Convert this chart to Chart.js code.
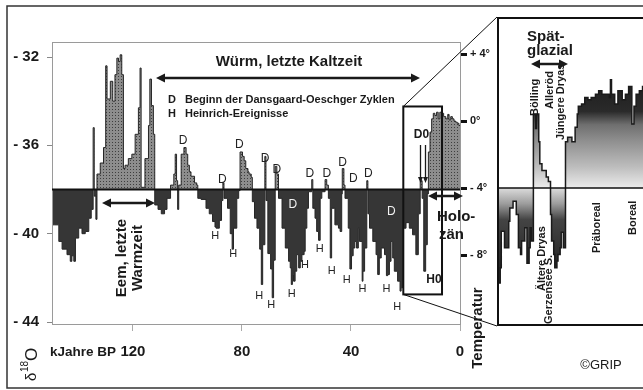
<!DOCTYPE html>
<html>
<head>
<meta charset="utf-8">
<script src="https://cdn.jsdelivr.net/npm/chart.js@4.4.1/dist/chart.umd.min.js"></script>
<style>
    html, body { margin: 0; padding: 0; background: #fff; overflow: hidden; }
    #wrap { position: relative; width: 643px; height: 390px; }
    #mainChart { position: absolute; left: 0; top: 0; }
    #insetChart { position: absolute; left: 497px; top: 17px; }
</style>
</head>
<body>
<div id="wrap">
    <canvas id="mainChart" width="643" height="390"></canvas>
    <canvas id="insetChart" width="148" height="309"></canvas>
</div>
<script>
// GRIP d18O record, ka BP (old -> young)
const ageKyr = [
    150.0, 148.7, 147.2, 146.0, 144.2, 143.0, 142.4, 141.7, 141.1, 139.9, 138.7, 137.5, 136.2, 135.3, 134.6, 134.2, 133.6, 133.2, 132.0, 130.8,
    130.0, 129.5, 128.3, 127.4, 126.6, 125.9, 125.3, 124.7, 124.1, 123.5, 122.9, 121.7, 120.4, 119.2, 118.0, 117.4, 117.0, 115.6, 114.3, 113.8,
    113.2, 112.5,
    112.0, 110.8, 109.6, 108.4, 107.5, 106.2, 105.0, 104.5, 104.0, 103.6, 103.2, 102.3, 101.3, 100.5, 99.9, 99.3, 98.7, 97.4, 96.6, 96.2,
    95.0, 93.2, 92.0, 90.8, 89.9, 89.5, 88.3, 87.5, 87.0, 86.6, 85.3, 84.3, 83.6, 83.1, 81.9, 81.2, 80.7, 79.8, 79.2, 78.6,
    77.8, 77.4, 76.6, 76.2, 75.4,
    74.5, 73.5, 72.9, 72.4, 71.6, 71.2, 70.5, 69.5, 68.9, 68.4, 67.8, 67.2, 66.6, 65.3, 64.1, 62.9, 62.3, 61.9, 61.5, 61.1,
    60.5, 59.9, 59.2, 58.6, 58.0, 57.2, 56.8, 56.2, 55.6, 54.4, 54.0, 53.2, 52.6, 51.9, 51.3, 50.7, 49.5, 48.9, 48.3, 47.6,
    47.1, 45.9, 44.6, 44.0, 43.4, 43.2, 42.6, 42.2, 41.0, 40.4, 39.8, 39.2, 38.6, 38.0, 37.3,
    36.9, 35.9, 35.6, 35.0, 34.2, 33.8, 33.2, 32.0, 30.8, 30.2, 29.6, 28.9, 27.7, 27.0, 26.5, 25.9, 25.3, 24.7, 24.1, 22.9,
    22.0, 21.6, 21.0, 19.8, 18.6, 17.4, 16.2, 15.3, 14.6, 13.9, 13.3, 12.6, 12.0, 11.6, 11.0, 10.4, 9.8, 9.2, 8.6, 8.0,
    7.4, 6.8, 6.0, 5.2, 4.5, 4.0, 3.4, 2.8, 2.2, 1.6, 1.0, 0.4, 0.0
];
const d18O = [
    -39.6, -39.6, -40.35, -40.7, -40.95, -41.25, -41.0, -41.25, -40.2, -39.75, -40.0, -39.9, -39.3, -38.9, -35.2, -38.3, -39.35, -37.3, -36.8, -36.1,
    -32.4, -33.9, -33.1, -34.0, -32.8, -32.05, -32.2, -31.9, -32.8, -37.05, -36.9, -36.6, -36.4, -35.5, -34.3, -32.5, -37.9, -36.6, -35.1, -33.0,
    -34.2, -35.5,
    -38.7, -38.9, -39.1, -38.9, -38.4, -37.8, -37.3, -36.4, -37.6, -38.9, -37.8, -36.4, -36.1, -36.4, -36.9, -37.2, -37.4, -37.7, -37.8, -38.4,
    -38.45, -38.85, -39.1, -39.45, -39.7, -39.75, -39.4, -38.5, -37.7, -38.4, -38.85, -40.0, -40.7, -39.75, -38.4, -38.05, -36.3, -36.5, -36.7, -37.05,
    -37.2, -37.3, -37.45, -38.55, -39.3,
    -39.75, -40.7, -42.3, -40.5, -36.5, -38.5, -40.9, -41.6, -42.9, -41.2, -36.95, -37.3, -38.4, -39.75, -40.65, -41.25, -41.55, -42.3, -41.85, -42.15,
    -41.7, -40.95, -41.55, -41.25, -40.95, -40.8, -39.75, -38.85, -38.1, -37.55, -38.85, -39.3, -39.9, -40.3, -38.4, -38.1, -37.55, -37.8, -38.4, -41.1,
    -38.85, -39.6, -39.75, -39.9, -38.2, -37.05, -37.8, -38.4, -39.75, -41.6, -41.0, -40.65, -40.35, -40.65, -39.75,
    -40.35, -42.15, -41.7, -40.65, -37.6, -39.1, -39.75, -40.35, -40.95, -41.85, -41.1, -40.65, -40.95, -41.9, -41.85, -41.25, -40.35, -41.1, -41.7, -42.15,
    -42.6, -42.45, -39.75, -39.5, -39.75, -40.05, -40.95, -39.1, -37.6, -38.4, -41.7, -40.5, -38.2, -36.3, -35.4, -34.8, -34.55, -34.65, -34.5, -34.8,
    -34.5, -34.55, -34.7, -34.8, -34.6, -34.85, -34.7, -34.8, -34.9, -34.95, -35.0, -35.1, -35.1
];

// Spaetglazial / Holozaen detail (inset)
const insetAgeKyr = [
    18.1, 17.8, 17.7, 17.4, 17.0, 16.9, 16.6, 16.3, 16.1, 15.9, 15.8, 15.5, 15.3, 15.1, 15.0, 14.9, 14.7, 14.5, 14.4, 14.2,
    14.1, 13.9, 13.8, 13.5, 13.3, 13.1, 13.0, 12.8, 12.7, 12.5, 12.4, 12.2, 12.1, 11.9, 11.7, 11.5, 11.1, 10.8, 10.6, 10.5,
    10.2, 9.9, 9.6, 9.3, 8.9, 8.6, 8.3, 8.0, 7.6, 7.5, 7.4, 7.1, 6.8, 6.4, 6.1, 5.8, 5.5, 5.3, 5.1, 4.8, 4.5, 4.2
];
const insetD18O = [
    -42.3, -41.6, -39.95, -40.7, -39.5, -38.9, -38.6, -39.2, -40.7, -41.0, -40.4, -39.8, -41.4, -40.7, -39.8, -40.4, -34.65, -35.3, -34.65, -35.9,
    -36.9, -37.2, -37.2, -37.5, -37.7, -39.2, -40.4, -41.0, -41.6, -41.3, -41.0, -40.7, -40.0, -40.7, -35.9, -35.7, -35.9, -35.25, -34.65, -34.3,
    -34.2, -33.9, -34.0, -33.9, -33.75, -33.6, -33.75, -33.75, -33.9, -33.1, -33.75, -34.2, -33.6, -34.0, -33.75, -33.4, -35.1, -34.3, -33.75, -33.6, -33.4, -33.6
];

const baseValue = -38;
const xTicks = [120, 80, 40, 0];
const yTicks = [-32, -36, -40, -44];
const tempTicks = [4, 0, -4, -8];

// event markers [age, d18O]
const dEvents = [[101.6, -35.8], [87.2, -37.55], [81.0, -35.95], [71.5, -36.6], [67.2, -37.1], [55.1, -37.3], [48.9, -37.3], [43.1, -36.8], [39.1, -37.5], [33.6, -37.3]];
const dEventsInDark = [[61.3, -38.7], [25.2, -39.0]];
const hEvents = [[89.8, -40.1], [83.2, -40.9], [73.7, -42.8], [69.3, -43.25], [61.7, -42.75], [56.9, -41.4], [51.5, -40.7], [47.1, -41.7], [41.6, -42.1], [35.8, -42.5], [27.0, -42.5], [23.0, -43.3]];
const zoomBox = [20.8, -34.24, 6.6, -42.75];

const FONT = '"Liberation Sans", Arial, sans-serif';
const INK = '#1a1a1a';

function dotPattern(ctx) {
    const c = document.createElement('canvas');
    c.width = 3;
    c.height = 3;
    const g = c.getContext('2d');
    g.fillStyle = '#8d8d8d';
    g.fillRect(0, 0, 3, 3);
    g.fillStyle = '#3e3e3e';
    g.fillRect(1, 1, 1, 1);
    return ctx.createPattern(c, 'repeat');
}

function text(ctx, str, x, y, size, opts = {}) {
    ctx.save();
    ctx.font = (opts.weight || 'bold') + ' ' + size + 'px ' + FONT;
    ctx.fillStyle = opts.color || INK;
    ctx.textAlign = opts.align || 'left';
    ctx.textBaseline = 'middle';
    if (opts.rotate) {
        ctx.translate(x, y);
        ctx.rotate(-Math.PI / 2);
        ctx.fillText(str, 0, 0);
    } else {
        ctx.fillText(str, x, y);
    }
    ctx.restore();
}

function head(ctx, x, y, dx, dy, len, half) {
    ctx.beginPath();
    ctx.moveTo(x, y);
    ctx.lineTo(x - dx * len - dy * half, y - dy * len + dx * half);
    ctx.lineTo(x - dx * len + dy * half, y - dy * len - dx * half);
    ctx.closePath();
    ctx.fill();
}

function doubleArrow(ctx, x1, x2, y, w) {
    ctx.save();
    ctx.strokeStyle = INK;
    ctx.fillStyle = INK;
    ctx.lineWidth = w;
    ctx.beginPath();
    ctx.moveTo(x1 + 6, y);
    ctx.lineTo(x2 - 6, y);
    ctx.stroke();
    head(ctx, x1, y, -1, 0, 9, 4.5);
    head(ctx, x2, y, 1, 0, 9, 4.5);
    ctx.restore();
}

function downArrow(ctx, x, y1, y2) {
    ctx.save();
    ctx.strokeStyle = INK;
    ctx.fillStyle = INK;
    ctx.lineWidth = 1.3;
    ctx.beginPath();
    ctx.moveTo(x, y1);
    ctx.lineTo(x, y2 - 4);
    ctx.stroke();
    head(ctx, x, y2, 0, 1, 6, 2.5);
    ctx.restore();
}

const mainDecor = {
    id: 'mainDecor',
    beforeDraw(chart) {
        const ctx = chart.ctx;
        ctx.save();
        ctx.fillStyle = '#fff';
        ctx.fillRect(0, 0, chart.width, chart.height);
        ctx.restore();
    },
    afterDraw(chart) {
        const ctx = chart.ctx;
        const a = chart.chartArea;
        const xs = chart.scales.x;
        const ys = chart.scales.y;
        const yb = ys.getPixelForValue(baseValue);

        ctx.save();
        // outer frame
        ctx.strokeStyle = '#333';
        ctx.lineWidth = 1.5;
        ctx.strokeRect(7, 6, 700, 382);
        // plot frame
        ctx.strokeStyle = '#9a9a9a';
        ctx.lineWidth = 1;
        ctx.strokeRect(a.left + 0.5, a.top + 0.5, a.right - a.left, a.bottom - a.top);
        // baseline
        ctx.strokeStyle = '#111';
        ctx.lineWidth = 2;
        ctx.beginPath();
        ctx.moveTo(a.left, yb);
        ctx.lineTo(a.right, yb);
        ctx.stroke();

        // zoom box + connectors to inset
        const bx1 = xs.getPixelForValue(zoomBox[0]), by1 = ys.getPixelForValue(zoomBox[1]);
        const bx2 = xs.getPixelForValue(zoomBox[2]), by2 = ys.getPixelForValue(zoomBox[3]);
        ctx.strokeStyle = '#111';
        ctx.lineWidth = 2;
        ctx.strokeRect(bx1, by1, bx2 - bx1, by2 - by1);
        ctx.lineWidth = 1;
        ctx.beginPath();
        ctx.moveTo(bx1, by1);
        ctx.lineTo(497, 17);
        ctx.moveTo(bx1, by2);
        ctx.lineTo(497, 326);
        ctx.stroke();
        ctx.restore();

        // event letters
        dEvents.forEach(p => text(ctx, 'D', xs.getPixelForValue(p[0]), ys.getPixelForValue(p[1]), 12, {weight: 'normal', align: 'center', color: '#222'}));
        dEventsInDark.forEach(p => text(ctx, 'D', xs.getPixelForValue(p[0]), ys.getPixelForValue(p[1]), 12, {weight: 'normal', align: 'center', color: '#f2f2f2'}));
        hEvents.forEach(p => text(ctx, 'H', xs.getPixelForValue(p[0]), ys.getPixelForValue(p[1]), 11, {weight: 'normal', align: 'center', color: '#222'}));
        text(ctx, 'D0', 421.5, 135, 12, {align: 'center'});
        text(ctx, 'H0', 434, 280, 12, {align: 'center'});
        downArrow(ctx, 420.5, 145, 183);
        downArrow(ctx, 425.5, 145, 183);

        // period labels
        text(ctx, 'Würm, letzte Kaltzeit', 289, 62, 15, {align: 'center'});
        doubleArrow(ctx, 156, 420, 78, 2.5);
        text(ctx, 'D', 168, 100, 11);
        text(ctx, 'Beginn der Dansgaard-Oeschger Zyklen', 185, 100, 11);
        text(ctx, 'H', 168, 114, 11);
        text(ctx, 'Heinrich-Ereignisse', 185, 114, 11);

        doubleArrow(ctx, 102, 155, 203, 2.5);
        text(ctx, 'Eem, letzte', 122, 258, 15, {align: 'center', rotate: true});
        text(ctx, 'Warmzeit', 138, 258, 15, {align: 'center', rotate: true});

        doubleArrow(ctx, 428, 463, 196, 2.5);
        text(ctx, 'Holo-', 437, 217, 15);
        text(ctx, 'zän', 439, 235, 15);

        text(ctx, 'Temperatur', 478, 328, 15, {align: 'center', rotate: true});
        text(ctx, 'kJahre BP', 50, 352, 13.5);
        text(ctx, '©GRIP', 601, 365, 13, {weight: 'normal', align: 'center'});

        // delta 18 O
        ctx.save();
        ctx.translate(36, 381);
        ctx.rotate(-Math.PI / 2);
        ctx.fillStyle = INK;
        ctx.textBaseline = 'alphabetic';
        ctx.font = 'normal 15px ' + FONT;
        ctx.fillText('δ', 0, 0);
        ctx.font = 'normal 10px ' + FONT;
        ctx.fillText('18', 9, -8);
        ctx.font = 'normal 17px ' + FONT;
        ctx.fillText('O', 20, 1);
        ctx.restore();
    }
};

const mainCtx = document.getElementById('mainChart').getContext('2d');
const mainChart = new Chart(mainCtx, {
    type: 'line',
    data: {
        datasets: [{
            data: ageKyr.map((a, i) => ({x: a, y: d18O[i]})),
            stepped: true,
            borderColor: '#262626',
            borderWidth: 1,
            pointRadius: 0,
            fill: {target: {value: baseValue}, above: dotPattern(mainCtx), below: '#363636'}
        }]
    },
    options: {
        responsive: false,
        animation: false,
        layout: {padding: {top: 42}},
        plugins: {legend: {display: false}, tooltip: {enabled: false}},
        scales: {
            x: {
                type: 'linear',
                reverse: true,
                min: 0,
                max: 149.7,
                afterBuildTicks: s => { s.ticks = xTicks.map(v => ({value: v})); },
                afterFit: s => { s.height = 66; },
                grid: {drawOnChartArea: false, tickLength: 7, tickColor: '#aaa'},
                border: {display: false},
                ticks: {font: {family: FONT, size: 15, weight: 'bold'}, color: INK, padding: 12, maxRotation: 0}
            },
            y: {
                position: 'left',
                min: -44.09,
                max: -31.32,
                afterBuildTicks: s => { s.ticks = yTicks.map(v => ({value: v})); },
                afterFit: s => { s.width = 52; },
                grid: {drawOnChartArea: false, tickLength: 5, tickColor: '#888'},
                border: {display: false},
                ticks: {
                    font: {family: FONT, size: 15, weight: 'bold'},
                    color: INK,
                    padding: 8,
                    callback: v => '- ' + Math.abs(v)
                }
            },
            temp: {
                position: 'right',
                min: -12.12,
                max: 4.72,
                afterBuildTicks: s => { s.ticks = tempTicks.map(v => ({value: v})); },
                afterFit: s => { s.width = 183; },
                grid: {drawOnChartArea: false, tickLength: 7, tickWidth: 3, tickColor: '#111'},
                border: {display: false},
                ticks: {
                    font: {family: FONT, size: 11, weight: 'bold'},
                    color: INK,
                    padding: 3,
                    callback: v => v > 0 ? '+ ' + v + '°' : (v < 0 ? '- ' + (-v) + '°' : '0°')
                }
            }
        }
    },
    plugins: [mainDecor]
});

// inset
const OX = 497, OY = 17;
const insetDecor = {
    id: 'insetDecor',
    beforeDraw(chart) {
        const ctx = chart.ctx;
        ctx.save();
        ctx.fillStyle = '#fff';
        ctx.fillRect(0, 0, chart.width, chart.height);
        ctx.restore();
    },
    afterDraw(chart) {
        const ctx = chart.ctx;
        const yb = chart.scales.y.getPixelForValue(baseValue);
        ctx.save();
        ctx.strokeStyle = '#111';
        ctx.lineWidth = 1.5;
        ctx.beginPath();
        ctx.moveTo(0, yb);
        ctx.lineTo(chart.width, yb);
        ctx.stroke();
        ctx.lineWidth = 2;
        ctx.beginPath();
        ctx.moveTo(chart.width + 5, 1);
        ctx.lineTo(1, 1);
        ctx.lineTo(1, chart.height - 1);
        ctx.lineTo(chart.width + 5, chart.height - 1);
        ctx.stroke();
        ctx.restore();

        text(ctx, 'Spät-', 527 - OX, 37 - OY, 15);
        text(ctx, 'glazial', 527 - OX, 51 - OY, 15);
        doubleArrow(ctx, 531 - OX, 568 - OX, 64 - OY, 2.5);

        ctx.save();
        ctx.translate(-OX, -OY);
        const rot = (s, x, yStart) => {
            ctx.save();
            ctx.font = 'bold 11px ' + FONT;
            ctx.fillStyle = INK;
            ctx.textBaseline = 'middle';
            ctx.translate(x, yStart);
            ctx.rotate(-Math.PI / 2);
            ctx.fillText(s, 0, 0);
            ctx.restore();
        };
        rot('Bölling', 535, 116);
        rot('Alleröd', 550, 109);
        rot('Jüngere Dryas', 561, 140);
        rot('Ältere Dryas', 542, 291);
        rot('Gerzensee S.', 549, 324);
        rot('Präboreal', 597, 253);
        rot('Boreal', 633, 235);
        ctx.restore();
    }
};

const insetCtx = document.getElementById('insetChart').getContext('2d');
const ybIn = 171;
const aboveGrad = insetCtx.createLinearGradient(0, 60, 0, ybIn);
aboveGrad.addColorStop(0, '#1c1c1c');
aboveGrad.addColorStop(0.31, '#2a2a2a');
aboveGrad.addColorStop(0.43, '#6f6f6f');
aboveGrad.addColorStop(0.57, '#8e8e8e');
aboveGrad.addColorStop(0.81, '#bdbdbd');
aboveGrad.addColorStop(1, '#ececec');
const belowGrad = insetCtx.createLinearGradient(0, ybIn, 0, 250);
belowGrad.addColorStop(0, '#dcdcdc');
belowGrad.addColorStop(0.2, '#9c9c9c');
belowGrad.addColorStop(0.4, '#444');
belowGrad.addColorStop(1, '#262626');

const insetChart = new Chart(insetCtx, {
    type: 'line',
    data: {
        datasets: [{
            data: insetAgeKyr.map((a, i) => ({x: a, y: insetD18O[i]})),
            stepped: true,
            borderColor: '#1a1a1a',
            borderWidth: 1.5,
            pointRadius: 0,
            fill: {target: {value: baseValue}, above: aboveGrad, below: belowGrad}
        }]
    },
    options: {
        responsive: false,
        animation: false,
        layout: {padding: 0},
        plugins: {legend: {display: false}, tooltip: {enabled: false}},
        scales: {
            x: {type: 'linear', reverse: true, min: 4.27, max: 18.1, display: false},
            y: {min: -44.24, max: -30.26, display: false}
        }
    },
    plugins: [insetDecor]
});
</script>
</body>
</html>
